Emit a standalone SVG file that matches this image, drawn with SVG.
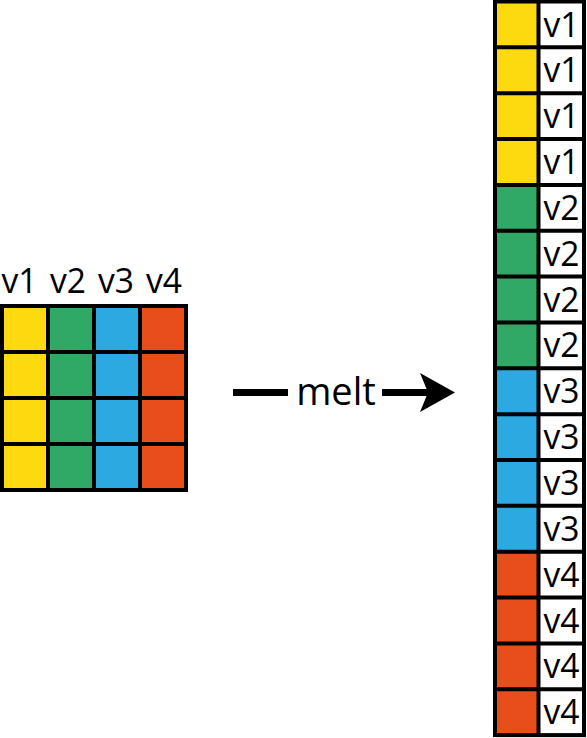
<svg xmlns="http://www.w3.org/2000/svg" width="587" height="738" viewBox="0 0 587 738">
<style>
.y{fill:#FDD90F}.g{fill:#30A966}.b{fill:#2DA9E1}.r{fill:#E84E1C}.w{fill:#FFFFFF}
.ln{stroke:#000;stroke-width:4;fill:none}
.t{font-family:"Open Sans","Noto Sans",sans-serif;font-size:32px;fill:#000;text-anchor:middle}
.c{font-size:35px}
</style>
<rect width="587" height="738" fill="#fff"/>
<g id="wide-table">
<g class="t c">
<text x="19.5" y="293" textLength="36" lengthAdjust="spacingAndGlyphs">v1</text>
<text x="68" y="293" textLength="36" lengthAdjust="spacingAndGlyphs">v2</text>
<text x="116" y="293" textLength="36" lengthAdjust="spacingAndGlyphs">v3</text>
<text x="164" y="293" textLength="36" lengthAdjust="spacingAndGlyphs">v4</text>
</g>
<rect class="y" x="2" y="306" width="46" height="184"/>
<rect class="g" x="48" y="306" width="46" height="184"/>
<rect class="b" x="94" y="306" width="46" height="184"/>
<rect class="r" x="140" y="306" width="46" height="184"/>
<rect class="ln" x="2" y="306" width="184" height="184"/>
<path class="ln" d="M48 306V490M94 306V490M140 306V490M2 352H186M2 398H186M2 444H186"/>
</g>
<g id="connectors">
<path d="M233 392.5H288M382 392.5H429" stroke="#000" stroke-width="7" fill="none"/>
<polygon points="420,373 455,392.5 420,412 428,392.5" fill="#000"/>
<text class="t" x="336" y="405" style="font-size:38px">melt</text>
</g>
<g id="long-table">
<rect class="y" x="495" y="1.5" width="43.5" height="183.4"/>
<rect class="g" x="495" y="184.9" width="43.5" height="183.4"/>
<rect class="b" x="495" y="368.3" width="43.5" height="183.4"/>
<rect class="r" x="495" y="551.7" width="43.5" height="183.4"/>
<rect class="w" x="538.5" y="1.5" width="45.5" height="733.6"/>
<rect class="ln" x="495" y="1.5" width="89" height="733.6"/>
<path class="ln" d="M538.5 1.5V735.1M495 47.35H584M495 93.2H584M495 139.05H584M495 184.9H584M495 230.75H584M495 276.6H584M495 322.45H584M495 368.3H584M495 414.15H584M495 460H584M495 505.85H584M495 551.7H584M495 597.55H584M495 643.4H584M495 689.25H584"/>
<g class="t c">
<text x="561.5" y="36.5" textLength="36" lengthAdjust="spacingAndGlyphs">v1</text>
<text x="561.5" y="82.35" textLength="36" lengthAdjust="spacingAndGlyphs">v1</text>
<text x="561.5" y="128.2" textLength="36" lengthAdjust="spacingAndGlyphs">v1</text>
<text x="561.5" y="174.05" textLength="36" lengthAdjust="spacingAndGlyphs">v1</text>
<text x="561.5" y="219.9" textLength="36" lengthAdjust="spacingAndGlyphs">v2</text>
<text x="561.5" y="265.75" textLength="36" lengthAdjust="spacingAndGlyphs">v2</text>
<text x="561.5" y="311.6" textLength="36" lengthAdjust="spacingAndGlyphs">v2</text>
<text x="561.5" y="357.45" textLength="36" lengthAdjust="spacingAndGlyphs">v2</text>
<text x="561.5" y="403.3" textLength="36" lengthAdjust="spacingAndGlyphs">v3</text>
<text x="561.5" y="449.15" textLength="36" lengthAdjust="spacingAndGlyphs">v3</text>
<text x="561.5" y="495" textLength="36" lengthAdjust="spacingAndGlyphs">v3</text>
<text x="561.5" y="540.85" textLength="36" lengthAdjust="spacingAndGlyphs">v3</text>
<text x="561.5" y="586.7" textLength="36" lengthAdjust="spacingAndGlyphs">v4</text>
<text x="561.5" y="632.55" textLength="36" lengthAdjust="spacingAndGlyphs">v4</text>
<text x="561.5" y="678.4" textLength="36" lengthAdjust="spacingAndGlyphs">v4</text>
<text x="561.5" y="724.25" textLength="36" lengthAdjust="spacingAndGlyphs">v4</text>
</g>
</g>
</svg>
